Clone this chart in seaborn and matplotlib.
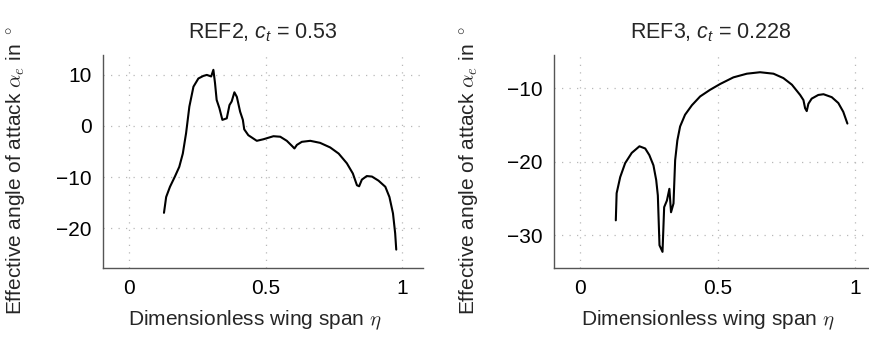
import numpy as np
import pandas as pd
import matplotlib
matplotlib.use("Agg")
import matplotlib.pyplot as plt
import seaborn as sns

# ---- data ----
eta_ref2 = [0.127, 0.135, 0.149, 0.167, 0.183, 0.196, 0.208, 0.220, 0.235, 0.253,
            0.271, 0.284, 0.300, 0.308, 0.314, 0.320, 0.330, 0.341, 0.357, 0.367,
            0.375, 0.385, 0.394, 0.406, 0.416, 0.421, 0.436, 0.467, 0.491, 0.528,
            0.553, 0.577, 0.596, 0.605, 0.614, 0.632, 0.663, 0.699, 0.736, 0.767,
            0.797, 0.819, 0.834, 0.842, 0.852, 0.870, 0.889, 0.913, 0.938, 0.953,
            0.966, 0.974, 0.978]
alpha_ref2 = [-17.0, -13.9, -11.9, -9.9, -8.0, -5.4, -1.4, 3.8, 7.7, 9.3,
              9.8, 10.0, 9.7, 11.0, 8.4, 5.1, 3.5, 1.2, 1.5, 4.1,
              4.8, 6.6, 5.7, 2.8, 1.2, -0.65, -1.8, -2.9, -2.6, -2.0,
              -2.1, -2.9, -3.9, -4.4, -3.7, -3.1, -2.9, -3.3, -4.2, -5.4,
              -7.3, -9.3, -11.6, -11.8, -10.5, -9.8, -9.9, -10.7, -11.9, -13.9,
              -17.1, -21.0, -24.2]

eta_ref3 = [0.129, 0.132, 0.145, 0.163, 0.187, 0.215, 0.236, 0.251, 0.266, 0.276,
            0.282, 0.288, 0.299, 0.305, 0.315, 0.324, 0.330, 0.339, 0.345, 0.353,
            0.363, 0.381, 0.406, 0.436, 0.472, 0.509, 0.557, 0.606, 0.654, 0.703,
            0.739, 0.770, 0.800, 0.812, 0.818, 0.824, 0.830, 0.842, 0.866, 0.885,
            0.915, 0.939, 0.957, 0.972]
alpha_ref3 = [-28.0, -24.3, -22.1, -20.2, -18.8, -17.9, -18.2, -19.1, -20.5, -22.5,
              -24.6, -31.4, -32.3, -26.2, -25.3, -23.7, -26.9, -25.7, -19.8, -17.1,
              -15.2, -13.6, -12.3, -11.1, -10.2, -9.4, -8.5, -8.0, -7.8, -8.0,
              -8.6, -9.5, -10.9, -11.6, -12.7, -13.1, -12.1, -11.4, -10.9, -10.8,
              -11.2, -12.0, -13.2, -14.8]

titles = ["REF2, $c_t$ = 0.53", "REF3, $c_t$ = 0.228"]
x_ticks = [0, 0.5, 1]
x_ticklabels = ["0", "0.5", "1"]
y_ticks_ref2 = [-20, -10, 0, 10]
y_ticks_ref3 = [-30, -20, -10]
xlabel = r"Dimensionless wing span $\eta$"
ylabel = r"Effective angle of attack $\alpha_e$ in $^\circ$"

df2 = pd.DataFrame({"eta": eta_ref2, "alpha": alpha_ref2})
df3 = pd.DataFrame({"eta": eta_ref3, "alpha": alpha_ref3})

# ---- style ----
sns.set_style("white")
plt.rcParams["font.family"] = ["Liberation Sans", "DejaVu Sans"]
plt.rcParams["mathtext.fontset"] = "custom"
plt.rcParams["mathtext.rm"] = "Liberation Sans"
plt.rcParams["mathtext.it"] = "Liberation Sans:italic"
plt.rcParams["axes.unicode_minus"] = True

FS = 15
FS_TITLE = 15.5
W, H = 869, 337
fig = plt.figure(figsize=(W / 100, H / 100), dpi=100)

def px_axes(l, r, t, b):
    return [l / W, (H - b) / H, (r - l) / W, (b - t) / H]

ax1 = fig.add_axes(px_axes(103, 423, 55, 268))
ax2 = fig.add_axes(px_axes(554, 868, 55, 268))

configs = [
    (ax1, df2, titles[0], y_ticks_ref2, (-0.0964, 1.076), (-27.8, 13.9), 0.475),
    (ax2, df3, titles[1], y_ticks_ref3, (-0.096, 1.047), (-34.5, -5.45), 0.49),
]

for ax, df, title, yt, xl, yl, xlab_x in configs:
    sns.lineplot(data=df, x="eta", y="alpha", ax=ax, color="black",
                 linewidth=1.5, sort=False, estimator=None)
    ax.set_xlim(*xl)
    ax.set_ylim(*yl)
    ax.set_xticks(x_ticks)
    ax.set_xticklabels(x_ticklabels)
    ax.set_yticks(yt)
    ax.grid(True, color="#b8b8b8", linestyle=(0, (1, 5)), linewidth=0.9)
    for s in ["top", "right"]:
        ax.spines[s].set_visible(False)
    for s in ["left", "bottom"]:
        ax.spines[s].set_color("#555555")
        ax.spines[s].set_linewidth(1.0)
    ax.tick_params(axis="both", direction="in", length=7.5, width=0.8,
                   color="#a8a8a8", labelsize=FS, pad=8, labelcolor="black")
    ax.set_title(title, fontsize=FS_TITLE, pad=12, math_fontfamily="custom")
    ax.set_xlabel(xlabel, fontsize=FS, math_fontfamily="cm")
    ax.set_ylabel(ylabel, fontsize=FS, math_fontfamily="cm")
    ax.xaxis.set_label_coords(xlab_x, -0.19)
    ax.yaxis.set_label_coords(-0.237, 0.455)

fig.savefig("out.png", dpi=100)
